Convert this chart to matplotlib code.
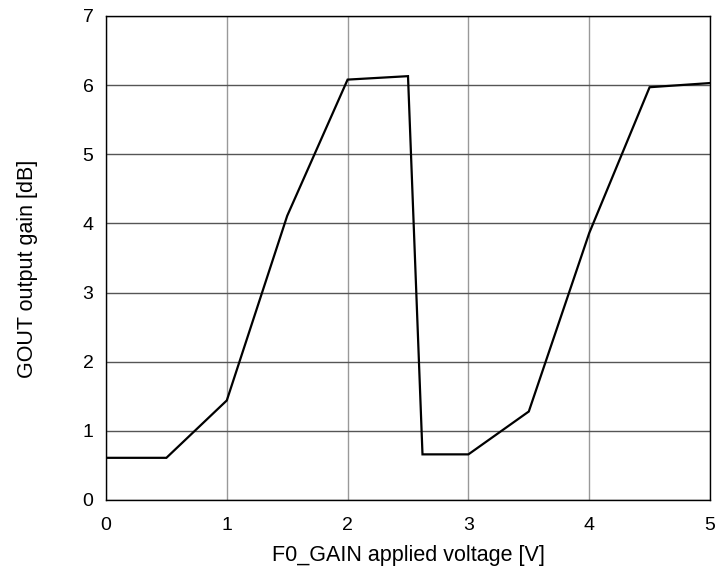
import matplotlib
matplotlib.use("Agg")
import matplotlib.pyplot as plt

voltage = [0.0, 0.5, 1.0, 1.5, 2.0, 2.5, 2.62, 3.0, 3.5, 4.0, 4.5, 5.0]
gain_db = [0.61, 0.61, 1.44, 4.11, 6.08, 6.13, 0.66, 0.66, 1.28, 3.86, 5.97, 6.03]
xticks = [0, 1, 2, 3, 4, 5]
yticks = [0, 1, 2, 3, 4, 5, 6, 7]

plt.rcParams['font.family'] = ['Liberation Sans', 'DejaVu Sans']

fig = plt.figure(figsize=(7.2, 5.69), dpi=100)
ax = fig.add_axes([106/720, 1-500/569, (710-106)/720, (500-16)/569])

ax.plot(voltage, gain_db, color='black', linewidth=1.6, solid_joinstyle='miter')
ax.set_xlim(0, 5)
ax.set_ylim(0, 7)
ax.set_xticks(xticks)
ax.set_yticks(yticks)
ax.xaxis.grid(True, color='#999999', linewidth=1.0)
ax.yaxis.grid(True, color='#555555', linewidth=1.0)
ax.set_axisbelow(True)
ax.tick_params(axis='x', length=0, labelsize=14, pad=12.5)
ax.tick_params(axis='y', length=0, labelsize=14, pad=9)
for s in ax.spines.values():
    s.set_color('black')
    s.set_linewidth(1.0)
ax.set_xlabel('F0_GAIN applied voltage [V]', fontsize=15.5, labelpad=8)
ax.set_ylabel('GOUT output gain [dB]', fontsize=15.5)
ax.yaxis.set_label_coords(-0.1126, 0.477)

fig.savefig('out.png', dpi=100)
